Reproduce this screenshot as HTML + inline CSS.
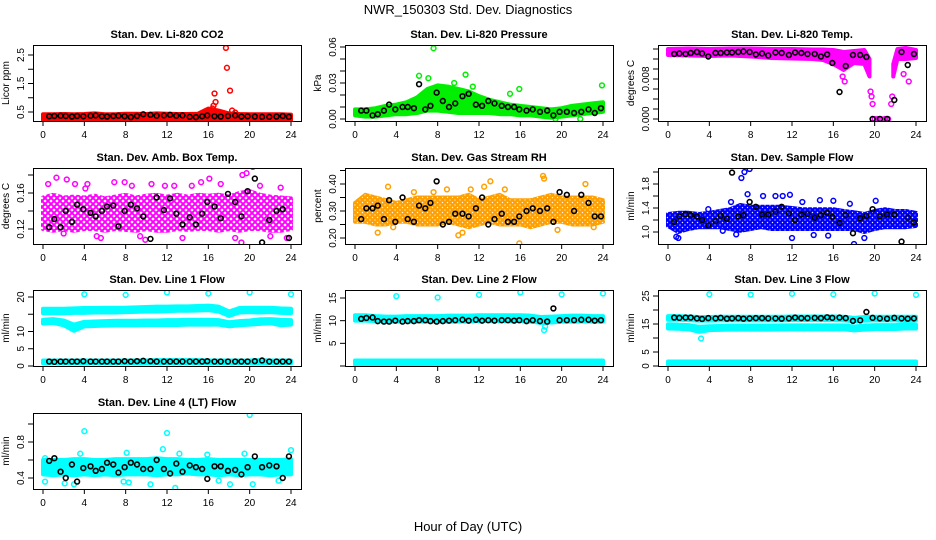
<!DOCTYPE html>
<html><head><meta charset="utf-8"><style>
html,body{margin:0;padding:0;background:#fff}
svg{display:block;font-family:"Liberation Sans",Arial,sans-serif}
</style></head><body>
<svg id="c" width="936" height="540" viewBox="0 0 936 540" xmlns="http://www.w3.org/2000/svg">
<rect width="936" height="540" fill="#fff"/>
<text x="468" y="14" text-anchor="middle" font-size="13">NWR_150303  Std. Dev. Diagnostics</text>
<text x="468" y="531" text-anchor="middle" font-size="13">Hour of Day (UTC)</text>
</svg>
<script>
// shared hours
const xTicks = [0,4,8,12,16,20,24];
const bandHours = [0,1,2,3,4,5,6,7,8,9,10,11,12,13,14,15,16,17,18,19,20,21,22,23,24];
const blackHours = [0.6,1.1,1.7,2.2,2.8,3.3,3.9,4.6,5.1,5.7,6.2,6.8,7.3,7.9,8.5,9.1,9.7,10.4,11.0,11.7,12.3,12.9,13.5,14.2,14.8,15.4,15.9,16.6,17.2,17.9,18.6,19.2,19.8,20.5,21.2,21.9,22.6,23.2,23.8];

// 1 CO2
const co2Lo = [.22,.22,.23,.22,.23,.23,.22,.22,.23,.23,.22,.23,.23,.22,.23,.23,.24,.24,.23,.23,.22,.22,.22,.22,.22];
const co2Hi = [.42,.42,.43,.42,.43,.45,.42,.42,.44,.44,.43,.45,.44,.43,.43,.44,.62,.55,.45,.43,.42,.42,.42,.42,.41];
const co2OutX = [16.3,16.4,16.5,16.6,16.7,17.7,17.8,18.1,18.3,18.6];
const co2OutY = [0.5,0.62,0.72,1.15,0.85,2.75,2.05,1.25,0.55,0.48];
const co2Black = [.35,.36,.37,.36,.34,.36,.35,.37,.38,.35,.34,.36,.37,.35,.32,.36,.42,.40,.37,.38,.40,.37,.38,.33,.32,.35,.38,.35,.34,.36,.38,.34,.35,.34,.33,.33,.34,.36,.33];
// 2 Pressure
const presLo = [.003,.002,.002,.003,.004,.004,.005,.007,.007,.006,.005,.005,.005,.005,.004,.004,.003,.003,.002,.001,.002,.003,.004,.005,.006];
const presHi = [.008,.008,.009,.011,.012,.014,.018,.025,.028,.027,.025,.023,.019,.016,.014,.012,.011,.010,.009,.008,.009,.011,.012,.013,.014];
const presOutX = [7.6,6.2,10.7,7.1,15.9,15.0,23.9,9.6,11.4,21.8,19.4];
const presOutY = [.059,.036,.037,.034,.025,.021,.028,.030,.027,.0,.0];
const presBlack = [.007,.007,.003,.004,.007,.012,.008,.010,.010,.009,.029,.008,.011,.022,.015,.010,.013,.019,.021,.012,.011,.015,.013,.011,.010,.010,.008,.007,.008,.006,.007,.003,.006,.006,.005,.006,.008,.005,.009];
// 3 Li-820 Temp
const tempHoursA = [0,2,4,6,8,10,12,14,15,16,17,18,19,19.5];
const tempLoA = [.0128,.0127,.0126,.0127,.0125,.0122,.0121,.0120,.0118,.0110,.0098,.0112,.0110,.0085];
const tempHiA = [.0140,.0141,.0140,.0141,.0141,.0140,.0140,.0139,.0139,.0138,.0134,.0136,.0138,.0120];
const tempHoursB = [21.8,22.2,23,24];
const tempLoB = [.0085,.0120,.0120,.0122];
const tempHiB = [.0110,.0140,.0142,.0138];
const tempOutX = [19.6,19.7,19.8,20.0,20.3,20.6,21.0,21.3,21.6,21.7,22.8,23.3,17.1,16.9];
const tempOutY = [.0055,.0045,.0030,.0,.0,.0,.0,.0,.0030,.0045,.0090,.0075,.0075,.0085];
const tempBlack = [.0130,.0131,.0130,.0132,.0134,.0131,.0125,.0132,.0132,.0133,.0133,.0134,.0135,.0134,.0129,.0131,.0127,.0133,.0132,.0128,.0133,.0132,.0130,.0130,.0125,.0129,.0112,.0054,.0106,.0128,.0128,.0124,.0,.0,.0,.0038,.0134,.0108,.0130];
// 4 Amb box temp
const ambLo = [.120,.118,.120,.118,.120,.120,.118,.120,.119,.118,.120,.118,.118,.120,.119,.120,.120,.118,.120,.118,.120,.120,.118,.118,.120];
const ambHi = [.155,.158,.155,.156,.155,.157,.154,.156,.158,.155,.157,.158,.156,.158,.156,.158,.157,.158,.156,.160,.162,.158,.156,.155,.154];
const ambOutX = [0.5,1.3,2.3,2.6,3.1,4.3,5.6,6.9,7.9,8.6,9.4,10.5,11.8,12.7,13.5,14.4,16.1,17.2,18.6,19.3,19.7,20.3,21.0,22.0,23.0,23.6,2.0,5.2,9.9,15.3,19.2,4.1];
const ambOutY = [.170,.177,.175,.098,.170,.170,.110,.172,.172,.168,.112,.170,.168,.168,.110,.168,.176,.170,.110,.180,.182,.189,.168,.112,.166,.110,.115,.112,.108,.172,.105,.165];
const ambBlack = [.122,.131,.122,.140,.128,.147,.142,.138,.134,.140,.145,.146,.123,.140,.147,.143,.134,.109,.155,.141,.154,.137,.125,.133,.125,.137,.150,.145,.132,.159,.150,.134,.162,.176,.105,.130,.140,.142,.110];
// 5 Gas stream RH
const rhLo = [.26,.26,.25,.25,.26,.26,.25,.25,.25,.26,.25,.24,.25,.26,.25,.25,.25,.24,.25,.26,.26,.25,.25,.25,.26];
const rhHi = [.33,.36,.35,.34,.33,.34,.35,.35,.35,.35,.35,.36,.34,.35,.36,.34,.34,.34,.35,.36,.35,.35,.35,.35,.34];
const rhOutX = [2.2,3.2,3.7,5.7,8.9,10.0,10.4,11.2,12.5,13.1,14.5,15.9,18.2,18.3,20.8,22.3,23.1,19.6,7.6];
const rhOutY = [.22,.39,.24,.37,.38,.21,.22,.38,.39,.41,.38,.18,.43,.42,.47,.40,.24,.23,.37];
const rhBlack = [.27,.31,.31,.32,.27,.34,.26,.35,.27,.26,.32,.31,.33,.41,.25,.26,.29,.29,.28,.31,.35,.25,.27,.29,.26,.26,.28,.30,.31,.30,.31,.26,.37,.36,.30,.36,.33,.28,.28];
// 6 Sample flow
const sfLo = [1.10,1.00,1.05,1.08,1.08,1.08,1.05,1.02,1.05,1.08,1.05,1.05,1.05,1.05,1.05,1.05,1.05,1.05,1.05,1.00,1.05,1.08,1.08,1.08,1.10];
const sfHi = [1.30,1.32,1.32,1.30,1.32,1.35,1.38,1.45,1.42,1.42,1.42,1.42,1.40,1.38,1.38,1.38,1.38,1.35,1.33,1.30,1.35,1.38,1.35,1.35,1.32];
const sfOutX = [0.8,1.0,6.1,7.1,7.4,7.9,7.7,6.6,9.2,10.4,11.1,11.8,13.0,14.1,14.7,15.5,16.0,17.6,18.0,19.0,20.1,3.9,5.3,12.0];
const sfOutY = [0.92,0.90,1.50,1.90,2.00,2.05,1.63,0.96,1.60,1.60,1.60,1.62,1.50,0.95,1.53,0.94,1.52,1.47,0.80,0.90,1.52,1.38,1.02,0.90];
const sfBlack = [1.17,1.26,1.30,1.28,1.26,1.20,1.11,1.18,1.27,1.22,1.99,1.26,1.28,1.50,1.42,1.29,1.29,1.34,1.42,1.31,1.20,1.29,1.30,1.24,1.28,1.32,1.25,1.15,1.28,0.98,1.23,1.27,1.38,1.26,1.29,1.29,0.84,1.24,1.16];
// 7 Line 1
const l1HiLo = [15.3,15.3,15.3,15.4,15.4,15.5,15.5,15.5,15.6,15.7,15.8,15.8,15.9,16.0,16.0,16.1,16.2,15.8,14.5,15.5,15.6,15.5,15.6,15.4,15.3];
const l1HiHi = [16.6,16.6,16.6,16.7,16.8,16.8,16.9,16.9,16.9,17.0,17.1,17.2,17.2,17.3,17.3,17.4,17.5,17.2,15.8,16.8,16.9,16.9,16.9,16.7,16.6];
const l1MidLo = [12.3,12.5,11.8,10.2,11.5,11.6,11.7,11.8,11.8,11.8,11.9,11.9,11.9,11.9,12.0,12.0,12.0,12.0,11.5,11.8,12.0,12.2,12.4,11.8,12.0];
const l1MidHi = [13.4,13.6,13.2,12.0,12.8,12.9,13.0,13.1,13.1,13.1,13.2,13.2,13.3,13.3,13.4,13.4,13.4,13.3,12.7,13.0,13.2,13.5,13.6,13.4,13.3];
const l1LoLo = [0.8,0.8,0.8,0.8,0.8,0.8,0.8,0.8,0.8,0.8,0.8,0.8,0.8,0.8,0.8,0.8,0.8,0.8,0.8,0.8,0.8,0.8,0.8,0.8,0.8];
const l1LoHi = [1.6,1.6,1.6,1.6,1.6,1.6,1.6,1.6,1.6,1.6,1.6,1.7,1.7,1.7,1.7,1.7,1.6,1.6,1.6,1.6,1.6,1.7,1.6,1.6,1.6];
const l1OutX = [4,8,12,16,20,24];
const l1OutY = [20.8,20.6,21.3,21.0,21.3,20.8];
const l1Black = [1.3,1.2,1.3,1.3,1.3,1.3,1.4,1.3,1.3,1.3,1.3,1.3,1.3,1.4,1.3,1.4,1.5,1.4,1.3,1.3,1.3,1.3,1.3,1.3,1.3,1.3,1.4,1.3,1.3,1.3,1.3,1.3,1.3,1.4,1.6,1.3,1.3,1.3,1.3];
// 8 Line 2
const l2HiLo = [10.0,10.0,9.9,9.8,9.8,9.8,9.8,9.8,9.8,9.8,9.8,9.8,9.9,9.9,9.9,9.9,9.9,9.8,9.5,9.6,9.8,9.8,9.8,9.8,9.8];
const l2HiHi = [11.2,11.2,11.0,10.9,10.9,11.0,11.0,11.0,11.0,11.1,11.1,11.1,11.2,11.2,11.2,11.2,11.2,11.1,10.8,10.9,11.0,11.1,11.1,11.0,11.0];
const l2LoLo = [0.3,0.3,0.3,0.3,0.3,0.3,0.3,0.3,0.3,0.3,0.3,0.3,0.3,0.3,0.3,0.3,0.3,0.3,0.3,0.3,0.3,0.3,0.3,0.3,0.3];
const l2LoHi = [1.2,1.2,1.2,1.2,1.2,1.2,1.2,1.2,1.2,1.2,1.2,1.2,1.2,1.2,1.2,1.2,1.2,1.2,1.2,1.2,1.2,1.2,1.2,1.2,1.2];
const l2OutX = [4,8,12,16,20,24,18.3,18.4];
const l2OutY = [15.4,15.1,15.7,16.2,15.8,16.0,7.9,8.7];
const l2Black = [10.4,10.6,10.7,9.9,9.8,9.8,10.0,9.8,9.9,9.9,10.1,10.1,9.9,9.8,9.9,10.0,10.1,10.2,10.0,10.2,10.0,10.1,10.0,10.1,10.1,10.0,10.1,9.9,10.1,9.9,9.8,12.7,10.1,10.1,10.1,10.2,10.2,10.0,10.1];
// 9 Line 3
const l3HiLo = [16.5,16.5,16.4,16.2,16.2,16.3,16.3,16.3,16.3,16.3,16.3,16.3,16.4,16.4,16.4,16.4,16.4,16.3,16.0,16.2,16.3,16.3,16.3,16.3,16.3];
const l3HiHi = [17.8,17.8,17.7,17.5,17.5,17.6,17.6,17.6,17.6,17.6,17.6,17.6,17.7,17.7,17.7,17.7,17.7,17.6,17.2,17.5,17.6,17.6,17.6,17.6,17.6];
const l3MidLo = [13.4,13.3,13.1,12.2,12.8,12.9,13.0,13.0,13.0,13.0,13.0,13.1,13.1,13.1,13.1,13.1,13.1,13.1,12.7,13.0,13.2,13.2,13.2,13.4,13.4];
const l3MidHi = [14.9,14.8,14.6,14.0,14.2,14.3,14.4,14.4,14.4,14.4,14.4,14.5,14.5,14.5,14.5,14.5,14.5,14.5,14.1,14.4,14.6,14.6,14.6,15.0,14.8];
const l3LoLo = [0.5,0.5,0.5,0.5,0.5,0.5,0.5,0.5,0.5,0.5,0.5,0.5,0.5,0.5,0.5,0.5,0.5,0.5,0.5,0.5,0.5,0.5,0.5,0.5,0.5];
const l3LoHi = [1.6,1.6,1.6,1.6,1.6,1.6,1.6,1.6,1.6,1.6,1.6,1.6,1.6,1.6,1.6,1.6,1.6,1.6,1.6,1.6,1.6,1.6,1.6,1.6,1.6];
const l3OutX = [4,8,12,16,20,24,3.2];
const l3OutY = [25.6,25.5,25.8,25.6,25.9,25.4,9.8];
const l3Black = [17.3,17.2,17.3,17.3,17.0,16.8,17.1,17.0,17.2,16.9,17.0,17.1,16.9,17.0,17.1,17.1,17.0,17.0,16.9,17.0,17.3,17.1,17.1,17.2,17.1,17.4,17.2,17.3,17.1,16.1,16.3,19.3,17.2,17.0,16.9,17.2,17.0,16.9,17.0];
// 10 Line 4
const l4Lo = [.44,.43,.44,.43,.44,.43,.44,.43,.44,.44,.44,.43,.44,.44,.45,.44,.44,.43,.44,.43,.44,.44,.43,.44,.44];
const l4Hi = [.60,.60,.60,.61,.61,.60,.60,.61,.61,.61,.61,.62,.61,.61,.60,.60,.61,.60,.60,.60,.60,.60,.60,.60,.61];
const l4OutX = [4.0,12.0,20.0,24.0,11.6,13.2,3.6,8.1,15.9,19.5,0.2,2.1,3.0,7.8,8.3,10.4,12.8,17.0,18.1,20.3,22.8,0.2];
const l4OutY = [.92,.90,1.10,.71,.72,.67,.67,.68,.66,.67,.62,.34,.33,.36,.35,.33,.29,.37,.33,.33,.37,.36];
const l4Black = [.59,.62,.47,.40,.55,.36,.51,.53,.48,.50,.57,.55,.46,.52,.57,.55,.50,.50,.60,.50,.45,.56,.47,.54,.52,.50,.39,.53,.53,.48,.49,.44,.52,.64,.52,.54,.53,.40,.64];

const NS = 'http://www.w3.org/2000/svg';
const svg = document.getElementById('c');
function mk(tag, attrs, parent) {
  const e = document.createElementNS(NS, tag);
  for (const k in attrs) e.setAttribute(k, attrs[k]);
  parent.appendChild(e);
  return e;
}
const defs = mk('defs', {}, svg);
const colLeft = [33, 345, 658];
const rowTop = [45, 168, 290, 413];
const W = 268, H = 76;

const panels = [
  {key:'co2', title:'Stan. Dev. Li-820 CO2', ylab:'Licor ppm', c:0, r:0, ref:[0.5,112,2.5,55], ticks:[0.5,1,1.5,2,2.5], labels:['0.5','','1.5','','2.5'], color:'#ff0000', sp:4, bands:[[bandHours,co2Lo,co2Hi]], ox:co2OutX, oy:co2OutY, black:co2Black},
  {key:'pressure', title:'Stan. Dev. Li-820 Pressure', ylab:'kPa', c:1, r:0, ref:[0,119,0.06,47], ticks:[0,.01,.02,.03,.04,.05,.06], labels:['0.00','','','0.03','','','0.06'], color:'#00ee00', sp:4, bands:[[bandHours,presLo,presHi]], ox:presOutX, oy:presOutY, black:presBlack},
  {key:'li820-temp', title:'Stan. Dev. Li-820 Temp.', ylab:'degrees C', c:2, r:0, ref:[0,119,0.008,79], ticks:[0,.002,.004,.006,.008,.010,.012,.014], labels:['0.000','','','','0.008','','',''], color:'#ff00ff', sp:4, bands:[[tempHoursA,tempLoA,tempHiA],[tempHoursB,tempLoB,tempHiB]], ox:tempOutX, oy:tempOutY, black:tempBlack},
  {key:'amb-box-temp', title:'Stan. Dev. Amb. Box Temp.', ylab:'degrees C', c:0, r:1, ref:[0.12,229,0.16,193], ticks:[.12,.14,.16,.18], labels:['0.12','','0.16',''], color:'#ff00ff', sp:6, bands:[[bandHours,ambLo,ambHi]], ox:ambOutX, oy:ambOutY, black:ambBlack},
  {key:'gas-stream-rh', title:'Stan. Dev. Gas Stream RH', ylab:'percent', c:1, r:1, ref:[0.2,238,0.4,184], ticks:[.20,.25,.30,.35,.40,.45], labels:['0.20','','0.30','','0.40',''], color:'#ffa000', sp:5, bands:[[bandHours,rhLo,rhHi]], ox:rhOutX, oy:rhOutY, black:rhBlack},
  {key:'sample-flow', title:'Stan. Dev. Sample Flow', ylab:'ml/min', c:2, r:1, ref:[1.0,232,1.4,208], ticks:[1.0,1.2,1.4,1.6,1.8,2.0], labels:['1.0','','1.4','','1.8',''], color:'#0000ff', sp:5, bands:[[bandHours,sfLo,sfHi]], ox:sfOutX, oy:sfOutY, black:sfBlack},
  {key:'line1-flow', title:'Stan. Dev. Line 1 Flow', ylab:'ml/min', c:0, r:2, ref:[0,366,20,297], ticks:[0,5,10,15,20], labels:['0','5','10','',20], color:'#00ffff', sp:4, bands:[[bandHours,l1HiLo,l1HiHi],[bandHours,l1MidLo,l1MidHi],[bandHours,l1LoLo,l1LoHi]], ox:l1OutX, oy:l1OutY, black:l1Black},
  {key:'line2-flow', title:'Stan. Dev. Line 2 Flow', ylab:'ml/min', c:1, r:2, ref:[0,366,15,298], ticks:[0,5,10,15], labels:['','5','10','15'], color:'#00ffff', sp:4, bands:[[bandHours,l2HiLo,l2HiHi],[bandHours,l2LoLo,l2LoHi]], ox:l2OutX, oy:l2OutY, black:l2Black},
  {key:'line3-flow', title:'Stan. Dev. Line 3 Flow', ylab:'ml/min', c:2, r:2, ref:[0,366,25,296], ticks:[0,5,10,15,20,25], labels:['0','5','','15','','25'], color:'#00ffff', sp:4, bands:[[bandHours,l3HiLo,l3HiHi],[bandHours,l3MidLo,l3MidHi],[bandHours,l3LoLo,l3LoHi]], ox:l3OutX, oy:l3OutY, black:l3Black},
  {key:'line4-flow', title:'Stan. Dev. Line 4 (LT) Flow', ylab:'ml/min', c:0, r:3, ref:[0.4,478,0.8,442], ticks:[0.4,0.6,0.8,1.0], labels:['0.4','','0.8',''], color:'#00ffff', sp:4, bands:[[bandHours,l4Lo,l4Hi]], ox:l4OutX, oy:l4OutY, black:l4Black}
];

panels.forEach(p => {
  const L = colLeft[p.c], T = rowTop[p.r];
  const xs = h => L + 10 + h * (W - 20) / 24;
  const ys = v => p.ref[1] + (v - p.ref[0]) * (p.ref[3] - p.ref[1]) / (p.ref[2] - p.ref[0]);
  // ring texture pattern to mimic overlapping open circles
  const pat = mk('pattern', {id: 'pt-' + p.key, patternUnits: 'userSpaceOnUse', width: p.sp, height: p.sp}, defs);
  mk('circle', {cx: p.sp / 2, cy: p.sp / 2, r: 2.2, fill: 'none', stroke: p.color, 'stroke-width': 1.6}, pat);
  mk('circle', {cx: 0, cy: 0, r: 2.2, fill: 'none', stroke: p.color, 'stroke-width': 1.6}, pat);
  mk('circle', {cx: p.sp, cy: p.sp, r: 2.2, fill: 'none', stroke: p.color, 'stroke-width': 1.6}, pat);
  mk('circle', {cx: 0, cy: p.sp, r: 2.2, fill: 'none', stroke: p.color, 'stroke-width': 1.6}, pat);
  mk('circle', {cx: p.sp, cy: 0, r: 2.2, fill: 'none', stroke: p.color, 'stroke-width': 1.6}, pat);

  const g = mk('g', {}, svg);
  
  
  const t = mk('text', {x: L + W / 2, y: T - 7, 'text-anchor': 'middle', 'font-size': 11, 'font-weight': 'bold'}, g);
  t.textContent = p.title;
  
  
  const clip = mk('clipPath', {id: 'cl-' + p.key}, g);
  mk('rect', {x: L, y: T, width: W, height: H}, clip);
  const plot = mk('g', {'clip-path': 'url(#cl-' + p.key + ')'}, g);
  p.bands.forEach((b, bi) => {
    const [hh, lo, hi] = b;
    let pts = hh.map((h, i) => xs(h) + ',' + ys(hi[i]));
    pts = pts.concat(hh.map((h, i) => xs(h) + ',' + ys(lo[i])).reverse());
    const poly = mk('polygon', {points: pts.join(' '), fill: 'url(#pt-' + p.key + ')', stroke: 'url(#pt-' + p.key + ')', 'stroke-width': 4, 'stroke-linejoin': 'round'}, plot);
    
    
  });
  p.ox.forEach((h, i) => {
    const c = mk('circle', {cx: xs(h), cy: ys(p.oy[i]), r: 2.4, fill: 'none', stroke: p.color, 'stroke-width': 1.5}, plot);
    
    
  });
  p.black.forEach((v, i) => {
    const c = mk('circle', {cx: xs(blackHours[i]), cy: ys(v), r: 2.4, fill: 'none', stroke: '#000', 'stroke-width': 1.6}, plot);
    
    
  });
  const box = mk('rect', {x: L + 0.5, y: T + 0.5, width: W, height: H, fill: 'none', stroke: '#000', 'stroke-width': 1}, g);
  
  
  mk('line', {x1: xs(0), x2: xs(24), y1: T + H + 0.5, y2: T + H + 0.5, stroke: '#000'}, g);
  xTicks.forEach(h => {
    mk('line', {x1: xs(h), x2: xs(h), y1: T + H, y2: T + H + 5, stroke: '#000'}, g);
    const tx = mk('text', {x: xs(h), y: T + H + 17, 'text-anchor': 'middle', 'font-size': 10}, g);
    tx.textContent = h;
    
    
  });
  const y0 = ys(p.ticks[0]), y1 = ys(p.ticks[p.ticks.length - 1]);
  mk('line', {x1: L + 0.5, x2: L + 0.5, y1: y0, y2: y1, stroke: '#000'}, g);
  p.ticks.forEach((v, i) => {
    const yy = ys(v);
    mk('line', {x1: L - 5, x2: L, y1: yy, y2: yy, stroke: '#000'}, g);
    if (p.labels[i] !== '') {
      const ty = mk('text', {x: L - 9, y: yy, 'text-anchor': 'middle', 'font-size': 10, transform: 'rotate(-90 ' + (L - 9) + ' ' + yy + ')'}, g);
      ty.textContent = p.labels[i];
      
      
    }
  });
  const cy = T + H / 2;
  const yl = mk('text', {x: L - 24, y: cy, 'text-anchor': 'middle', 'font-size': 10, transform: 'rotate(-90 ' + (L - 24) + ' ' + cy + ')'}, g);
  yl.textContent = p.ylab;
  
  
});
</script>
</body></html>
